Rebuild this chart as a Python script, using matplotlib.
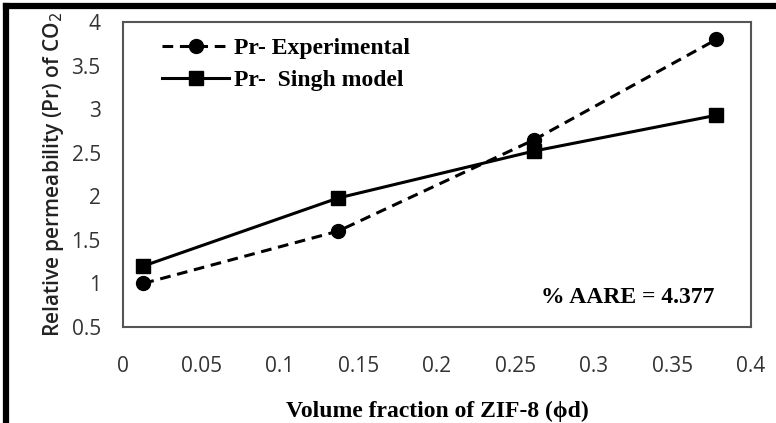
import matplotlib
matplotlib.use('Agg')
import matplotlib.pyplot as plt
from matplotlib.lines import Line2D

# data
phi_d = [0.013, 0.137, 0.262, 0.378]
pr_exp = [1.0, 1.6, 2.65, 3.8]
pr_singh = [1.2, 1.98, 2.52, 2.93]
xticks = [0, 0.05, 0.1, 0.15, 0.2, 0.25, 0.3, 0.35, 0.4]
yticks = [0.5, 1, 1.5, 2, 2.5, 3, 3.5, 4]

W, H = 776, 423
fig = plt.figure(figsize=(W / 100, H / 100), dpi=100)
ax = fig.add_axes([123 / W, 1 - 327 / H, (751 - 123) / W, (327 - 22) / H])

ax.plot(phi_d, pr_exp, 'k--', marker='o', markersize=10, lw=2.2,
        dashes=(3.5, 2.2), label='Pr- Experimental')
ax.plot(phi_d, pr_singh, 'k-', marker='s', markersize=10, lw=2.2,
        label='Pr-  Singh model')

ax.set_xlim(0, 0.4)
ax.set_ylim(0.5, 4)
ax.set_xticks(xticks)
ax.set_xticklabels([f'{t:g}' for t in xticks])
ax.set_yticks(yticks)
ax.set_yticklabels([f'{t:g}' for t in yticks])
ax.tick_params(length=0, labelsize=15, colors='#333333')
ax.tick_params(axis='x', pad=21)
ax.tick_params(axis='y', pad=16)
for lab in ax.get_xticklabels() + ax.get_yticklabels():
    lab.set_family('Open Sans')
for s in ax.spines.values():
    s.set_color('#555555')
    s.set_linewidth(1.5)

ax.set_xlabel('Volume fraction of ZIF-8 (\u03d5d)', family='Liberation Serif',
              fontweight='bold', fontsize=17, labelpad=17)
ax.set_ylabel('Relative permeability (Pr) of CO$_2$', family='Open Sans',
              fontweight='semibold', fontsize=15, labelpad=4, color='#222222')

ax.legend(loc='upper left', bbox_to_anchor=(30 / 628, 1 - 6 / 305), frameon=False,
          handlelength=2.8, borderaxespad=0,
          prop={'family': 'Liberation Serif', 'weight': 'bold', 'size': 17},
          labelspacing=0.45, handletextpad=0.25)

ax.text(0.377, 0.84, '% AARE = 4.377', ha='right', va='center',
        family='Liberation Serif', fontweight='bold', fontsize=17)

# outer frame on left and top
fig.add_artist(Line2D([6 / W, 6 / W], [0, 1 - 6 / H], color='k', lw=4.5,
                      transform=fig.transFigure))
fig.add_artist(Line2D([6 / W, 1], [1 - 6 / H, 1 - 6 / H], color='k', lw=4.5,
                      transform=fig.transFigure))

fig.savefig('out.png', dpi=100)
